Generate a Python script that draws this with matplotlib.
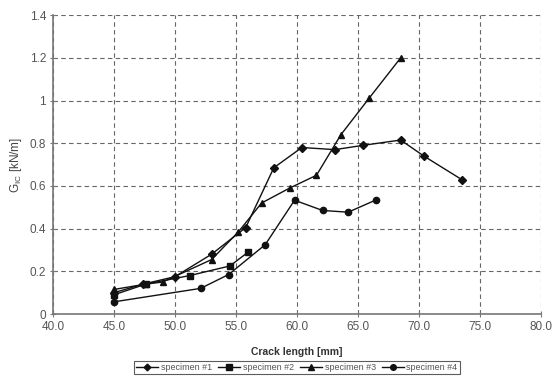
# G_IC vs crack length, four specimens
import matplotlib
matplotlib.use("Agg")
import matplotlib.pyplot as plt
from matplotlib.ticker import FuncFormatter

plt.rcParams['font.family'] = ['Liberation Sans', 'DejaVu Sans']

# specimen #1 (diamonds)
x1 = [45.0, 47.4, 50.0, 53.0, 55.8, 58.1, 60.4, 63.1, 65.4, 68.5, 70.4, 73.5]
y1 = [0.10, 0.14, 0.175, 0.28, 0.405, 0.685, 0.78, 0.77, 0.79, 0.815, 0.74, 0.63]
# specimen #2 (squares)
x2 = [45.0, 47.6, 51.2, 54.5, 56.0]
y2 = [0.09, 0.14, 0.18, 0.225, 0.29]
# specimen #3 (triangles)
x3 = [45.0, 47.6, 49.0, 53.0, 55.2, 57.1, 59.4, 61.6, 63.6, 65.9, 68.5]
y3 = [0.115, 0.14, 0.15, 0.255, 0.385, 0.52, 0.59, 0.65, 0.84, 1.01, 1.20]
# specimen #4 (circles)
x4 = [45.0, 52.1, 54.4, 57.4, 59.8, 62.1, 64.2, 66.5]
y4 = [0.057, 0.12, 0.185, 0.325, 0.533, 0.485, 0.477, 0.535]

labels = ['specimen #1', 'specimen #2', 'specimen #3', 'specimen #4']

fig = plt.figure(figsize=(5.52, 3.79), dpi=100)
ax = fig.add_axes([0.096, 0.1715, 0.884, 0.7885])

kw = dict(color='#111111', lw=1.0, markeredgecolor='#111111', markerfacecolor='#111111')
ax.plot(x1, y1, marker='D', ms=3.8, label=labels[0], **kw)
ax.plot(x2, y2, marker='s', ms=4.5, label=labels[1], **kw)
ax.plot(x3, y3, marker='^', ms=5, label=labels[2], **kw)
ax.plot(x4, y4, marker='o', ms=4.5, label=labels[3], **kw)

ax.set_xlim(40, 80)
ax.set_ylim(0, 1.4)
ax.set_xticks(range(40, 81, 5))
ax.set_yticks([0, 0.2, 0.4, 0.6, 0.8, 1.0, 1.2, 1.4])
ax.xaxis.set_major_formatter(FuncFormatter(lambda v, p: f"{v:.1f}"))
ax.yaxis.set_major_formatter(FuncFormatter(lambda v, p: f"{v:g}"))

ax.grid(True, ls=(0, (4, 3)), color='#666666', lw=0.8)
ax.set_axisbelow(True)
for s in ['top', 'right']:
    ax.spines[s].set_visible(False)
for s in ['left', 'bottom']:
    ax.spines[s].set_color('#777777')
    ax.spines[s].set_linewidth(1.2)
ax.tick_params(direction='inout', length=4, width=0.8, color='#777777',
               labelsize=8.5, labelcolor='#555555', pad=3)

ax.set_xlabel('Crack length [mm]', fontsize=7.5, fontweight='bold', color='#333333', labelpad=10)
ax.set_ylabel(r'G$_{\mathregular{IC}}$ [kN/m]', fontsize=8.5, color='#444444', labelpad=4)

leg = fig.legend(loc='lower center', bbox_to_anchor=(0.538, 0.0), ncol=4,
                 fontsize=6.5, frameon=True, fancybox=False, edgecolor='#333333',
                 handlelength=2.4, handletextpad=0.3, columnspacing=0.7,
                 borderpad=0.25, markerscale=0.9)
leg.get_frame().set_linewidth(0.8)
for t in leg.get_texts():
    t.set_color('#555555')

fig.savefig('out.png', dpi=100)
